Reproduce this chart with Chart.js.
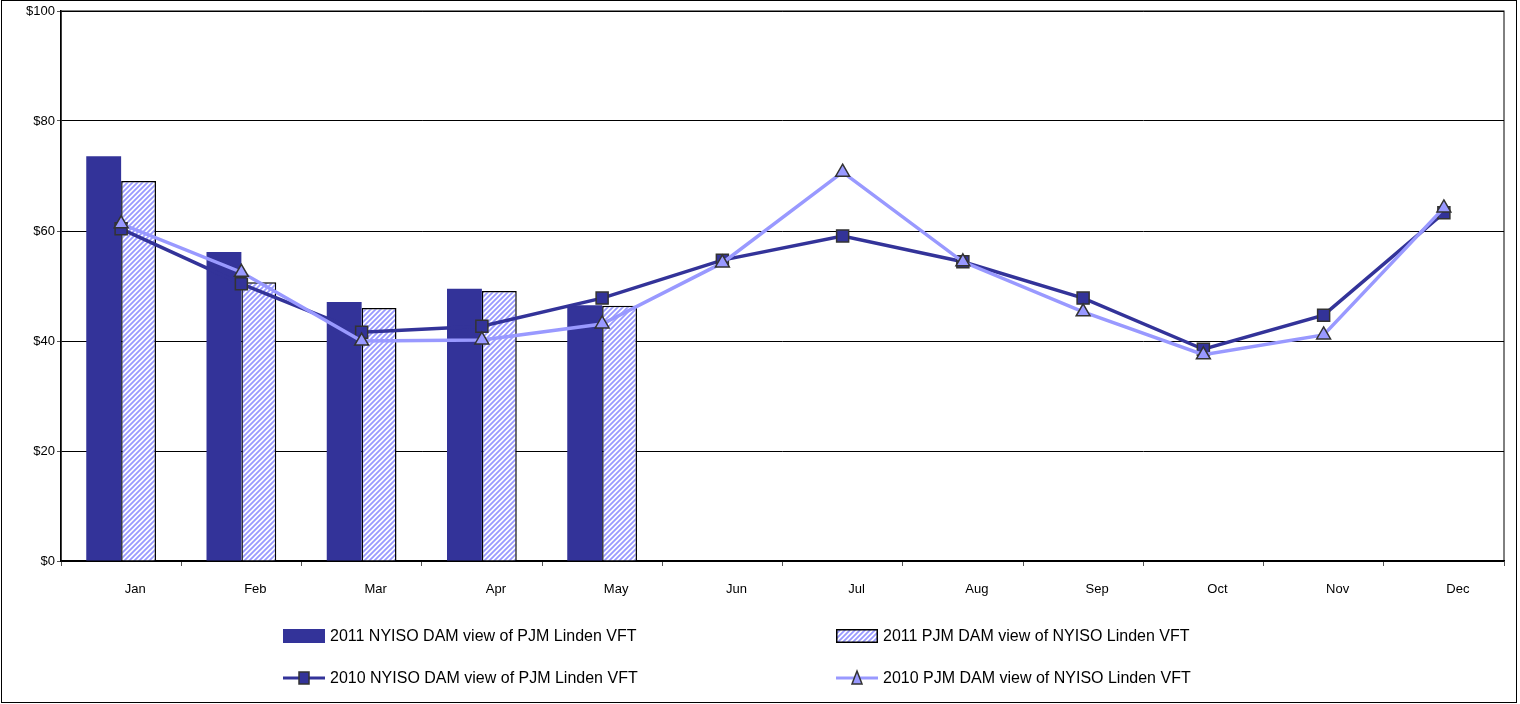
<!DOCTYPE html>
<html>
<head>
<meta charset="utf-8">
<script src="https://cdn.jsdelivr.net/npm/chart.js@4/dist/chart.umd.min.js"></script>
<style>
  html, body { margin: 0; padding: 0; background: #fff; }
  #wrap { width: 1520px; height: 704px; position: relative; }
</style>
</head>
<body>
<div id="wrap"><canvas id="chartCanvas" width="1520" height="704"></canvas></div>
<script>
"use strict";

const months = ["Jan", "Feb", "Mar", "Apr", "May", "Jun", "Jul", "Aug", "Sep", "Oct", "Nov", "Dec"];
const nyiso2011 = [73.6, 56.2, 47.1, 49.5, 46.5];
const pjm2011 = [69.1, 50.7, 46.0, 49.1, 46.4];
const nyiso2010 = [60.4, 50.4, 41.6, 42.7, 47.8, 54.7, 59.1, 54.4, 47.8, 38.5, 44.7, 63.3];
const pjm2010 = [61.3, 52.5, 40.0, 40.2, 43.1, 54.2, 70.7, 54.4, 45.3, 37.5, 41.1, 64.2];
const yTicks = [0, 20, 40, 60, 80, 100];

const DARK = "#333399";
const LIGHT = "#9999FF";
const FONT = "'Liberation Sans', Arial, sans-serif";

function makeHatch() {
  const c = document.createElement("canvas");
  c.width = 5;
  c.height = 5;
  const g = c.getContext("2d");
  g.fillStyle = "#ffffff";
  g.fillRect(0, 0, 5, 5);
  g.strokeStyle = LIGHT;
  g.lineWidth = 1.8;
  g.beginPath();
  g.moveTo(-1, 6); g.lineTo(6, -1);
  g.moveTo(-1, 1); g.lineTo(1, -1);
  g.moveTo(4, 6); g.lineTo(6, 4);
  g.stroke();
  return g.createPattern(c, "repeat");
}

const ctx = document.getElementById("chartCanvas").getContext("2d");
const hatch = makeHatch();

// plot frame, outer frame and a 2x2 legend
const legendGrid = {
  id: "legendGrid",
  beforeDatasetsDraw(chart) {
    const a = chart.chartArea;
    const c = chart.ctx;
    c.save();
    c.strokeStyle = "#000";
    c.lineWidth = 1;
    c.strokeRect(a.left, a.top, a.right - a.left, a.bottom - a.top);
    c.restore();
  },
  afterDraw(chart) {
    const c = chart.ctx;
    c.save();
    c.strokeStyle = "#000";
    c.lineWidth = 1;
    c.strokeRect(1.5, 0.5, 1515, 702);

    const cols = [283, 836];
    const rows = [636, 678];
    const items = [
      { text: "2011 NYISO DAM view of PJM Linden VFT", kind: "bar", fill: DARK, border: null },
      { text: "2011 PJM DAM view of NYISO Linden VFT", kind: "bar", fill: hatch, border: "#000" },
      { text: "2010 NYISO DAM view of PJM Linden VFT", kind: "line", color: DARK, marker: "rect" },
      { text: "2010 PJM DAM view of NYISO Linden VFT", kind: "line", color: LIGHT, marker: "triangle" },
    ];
    c.font = "16px " + FONT;
    c.textBaseline = "middle";
    c.fillStyle = "#000";
    items.forEach((it, i) => {
      const x = cols[i % 2];
      const y = rows[Math.floor(i / 2)];
      if (it.kind === "bar") {
        c.fillStyle = it.fill;
        c.fillRect(x, y - 7, 42, 14);
        if (it.border) {
          c.strokeStyle = it.border;
          c.lineWidth = 1.5;
          c.strokeRect(x + 0.75, y - 6.25, 40.5, 12.5);
        }
      } else {
        c.strokeStyle = it.color;
        c.lineWidth = 3;
        c.beginPath();
        c.moveTo(x, y);
        c.lineTo(x + 42, y);
        c.stroke();
        c.fillStyle = it.color;
        c.strokeStyle = "#333";
        c.lineWidth = 1.5;
        c.beginPath();
        if (it.marker === "rect") {
          c.rect(x + 16, y - 6, 10, 12);
        } else {
          c.moveTo(x + 21, y - 7);
          c.lineTo(x + 26, y + 6);
          c.lineTo(x + 16, y + 6);
          c.closePath();
        }
        c.fill();
        c.stroke();
      }
      c.fillStyle = "#000";
      c.fillText(it.text, x + 47, y + 1);
    });
    c.restore();
  },
};

new Chart(ctx, {
  data: {
    labels: months,
    datasets: [
      {
        type: "line",
        label: "2010 PJM DAM view of NYISO Linden VFT",
        data: pjm2010,
        borderColor: LIGHT,
        borderWidth: 3.5,
        backgroundColor: LIGHT,
        pointStyle: "triangle",
        pointRadius: 8,
        pointBorderColor: "#333333",
        pointBorderWidth: 1.5,
        tension: 0,
        order: 0,
      },
      {
        type: "line",
        label: "2010 NYISO DAM view of PJM Linden VFT",
        data: nyiso2010,
        borderColor: DARK,
        borderWidth: 3.5,
        backgroundColor: DARK,
        pointStyle: "rect",
        pointRadius: 8.5,
        pointBorderColor: "#333333",
        pointBorderWidth: 1.5,
        tension: 0,
        order: 1,
      },
      {
        type: "bar",
        label: "2011 NYISO DAM view of PJM Linden VFT",
        data: nyiso2011,
        backgroundColor: DARK,
        borderWidth: 0,
        categoryPercentage: 0.58,
        barPercentage: 1.0,
        order: 2,
      },
      {
        type: "bar",
        label: "2011 PJM DAM view of NYISO Linden VFT",
        data: pjm2011,
        backgroundColor: hatch,
        borderColor: "#000000",
        borderWidth: 1.5,
        categoryPercentage: 0.58,
        barPercentage: 1.0,
        order: 2,
      },
    ],
  },
  options: {
    responsive: false,
    animation: false,
    layout: { padding: { left: 0, top: 11, right: 16, bottom: 0 } },
    plugins: {
      legend: { display: false },
      title: { display: false },
      tooltip: { enabled: false },
    },
    scales: {
      x: {
        offset: true,
        grid: {
          offset: true,
          drawOnChartArea: false,
          color: "#000",
          tickLength: 5,
          tickColor: "#555",
        },
        border: { color: "#000", width: 1.5 },
        ticks: { color: "#000", font: { family: FONT, size: 13 }, padding: 16, labelOffset: 14 },
        afterFit(scale) { scale.height = 143; },
      },
      y: {
        min: 0,
        max: 100,
        afterBuildTicks(scale) { scale.ticks = yTicks.map(v => ({ value: v })); },
        grid: { color: "#000", lineWidth: 1, tickLength: 4, tickColor: "#555" },
        border: { color: "#000", width: 1.5 },
        ticks: {
          color: "#000",
          font: { family: FONT, size: 13 },
          padding: 2,
          callback: v => "$" + v,
        },
        afterFit(scale) { scale.width = 61; },
      },
    },
  },
  plugins: [legendGrid],
});
</script>
</body>
</html>
